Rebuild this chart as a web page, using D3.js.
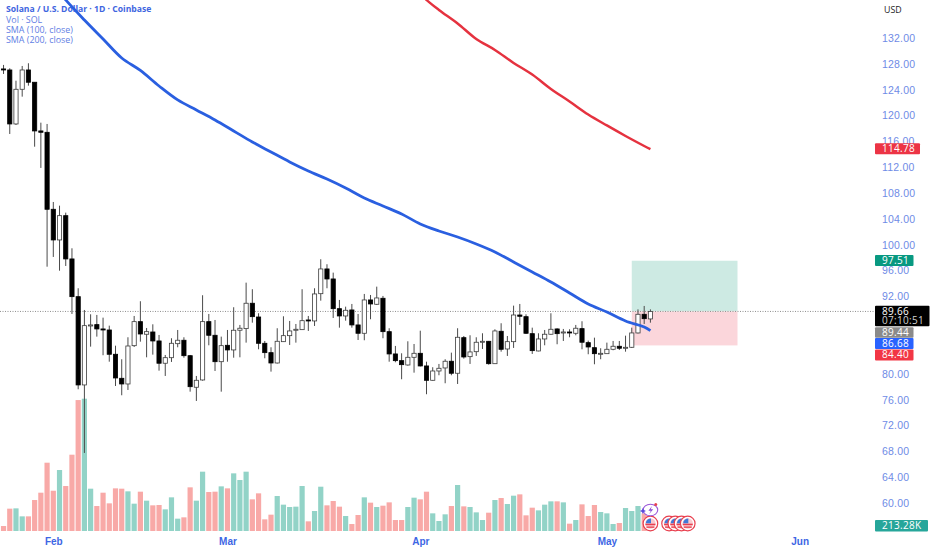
<!DOCTYPE html>
<html>
<head>
<meta charset="utf-8">
<script src="https://cdn.jsdelivr.net/npm/d3@7"></script>
<style>
    html, body { margin: 0; padding: 0; background: #fff; }
    svg { display: block; font-family: "Open Sans", sans-serif; }
    .price-axis text { fill: #6f8be6; font-size: 10.5px; letter-spacing: 0.2px; }
    .time-axis text { fill: #3d66e4; font-size: 10px; font-weight: 700; }
</style>
</head>
<body>
<script>
// candles, one entry per day, first day is Jan 24
const firstDay = new Date(2026, 0, 24);
const opens = [127.21,127.05,118.69,124.06,127.05,125.15,117.61,117.40,105.48,100.73,104.49,97.79,91.95,78.28,87.41,87.62,86.95,86.79,83.03,79.31,78.43,84.36,88.08,86.13,86.48,85.09,81.64,82.50,84.67,85.20,82.81,77.92,79.05,88.08,85.97,81.88,84.42,83.70,86.75,87.00,90.93,88.80,84.73,83.28,81.68,84.98,85.91,86.75,86.84,88.34,88.19,92.41,96.24,94.69,90.09,88.96,89.89,87.57,86.28,91.44,90.77,91.70,86.53,83.08,82.04,81.37,82.56,83.18,81.22,79.00,80.44,80.91,81.95,80.09,85.60,82.66,83.43,84.93,85.04,81.57,86.59,83.85,84.98,89.11,88.85,86.22,83.54,85.40,86.13,86.95,86.37,86.48,86.28,87.00,84.83,84.05,83.08,83.12,83.80,84.27,84.00,84.11,86.33,89.22,88.50];
const highs = [127.83,127.31,125.39,127.67,128.09,125.15,118.89,118.69,106.61,106.04,104.96,99.44,93.25,89.89,89.22,89.12,88.70,87.46,84.36,82.26,85.66,88.96,91.24,87.10,87.67,86.02,82.92,85.51,86.79,85.66,82.92,79.67,92.17,89.27,88.34,85.76,86.79,90.31,87.57,94.12,93.10,89.38,85.09,84.11,87.06,88.91,88.19,87.72,93.10,88.96,93.25,97.74,96.97,95.67,91.44,90.40,90.82,89.27,92.37,92.21,93.50,92.06,87.06,84.32,83.18,85.04,84.62,86.68,81.88,81.02,81.53,82.26,83.28,87.06,85.86,85.97,85.66,86.28,85.09,86.90,87.83,85.86,90.56,90.82,89.22,87.15,86.28,86.79,89.38,87.06,86.95,86.90,87.57,88.14,85.14,85.60,83.96,84.83,85.09,85.09,85.91,87.15,89.98,90.51,89.98];
const lows = [126.43,117.14,118.53,122.92,124.62,115.17,111.88,96.59,98.10,95.97,96.70,89.27,77.61,67.75,84.21,85.76,82.88,81.88,78.12,76.68,77.50,84.16,84.98,82.56,82.97,80.49,79.67,81.84,84.11,82.50,77.24,75.80,78.94,84.42,80.44,77.24,81.88,82.50,82.56,84.83,87.92,83.80,82.41,80.34,81.60,84.93,84.47,84.83,86.79,86.64,87.41,91.33,93.25,88.65,87.15,88.23,87.15,85.24,85.20,88.45,90.66,85.51,81.88,81.79,79.16,81.27,80.18,81.14,76.84,78.94,79.78,78.54,79.78,78.43,82.35,81.53,82.77,83.85,81.42,81.53,83.43,82.77,84.01,87.57,86.17,83.08,83.49,84.42,86.07,84.58,85.09,85.66,85.97,83.80,83.03,81.48,82.26,83.08,83.65,83.69,83.43,84.00,86.25,87.72,87.92];
const closes = [127.05,118.69,124.06,127.05,125.15,117.61,117.40,105.48,100.73,104.49,97.79,91.95,78.28,87.46,87.57,86.95,86.79,83.03,79.36,78.43,84.31,88.08,86.17,86.53,85.09,81.64,82.50,84.73,85.20,82.81,78.01,79.00,88.08,85.97,81.88,84.36,83.70,86.75,87.06,90.93,88.85,84.73,83.28,81.68,85.04,85.91,86.64,86.90,88.23,88.19,92.37,96.24,94.69,90.09,88.96,89.84,87.57,86.28,91.44,90.82,91.75,86.53,83.08,82.04,81.42,82.56,83.18,81.22,79.00,80.44,80.86,81.95,80.09,85.66,82.61,83.39,84.89,85.04,81.57,86.64,83.80,84.98,89.11,88.91,86.28,83.59,85.40,86.13,86.90,86.22,86.48,86.37,87.06,84.89,84.16,83.12,83.18,83.80,84.27,83.96,84.11,86.33,89.22,88.54,89.66];

// daily volume in thousands
const volumes = [177,793,804,520,520,1100,1360,2425,1430,2165,1597,2709,4649,4697,1502,887,1360,982,1514,1502,1408,970,1396,1077,911,923,769,1195,438,485,1550,1077,2106,1384,1396,1585,1514,2047,1810,2106,1124,1337,414,580,1242,935,852,864,1597,343,710,1573,911,1065,864,532,248,568,1195,1006,852,899,1017,390,390,852,1183,1124,1396,627,355,592,887,1633,875,852,662,390,650,1100,1171,958,1254,1301,556,828,733,935,1053,1053,1017,260,390,946,532,923,674,627,248,284,816,710,887,627,213.28];

// moving averages, read every few days: day number from Feb 1 and value
const sma100Days = [1,2,5,8,11,14,17,20,23,26,29,32,35,38,41,44,47,50,53,56,59,62,65,68,71,74,77,80,83,86,89,92,95,96];
const sma100Values = [139.13,137.89,134.79,131.85,128.91,126.97,124.57,122.41,120.86,119.31,117.61,115.90,114.35,112.81,111.41,110.16,108.78,107.23,106.00,104.75,103.21,102.12,101.19,100.11,98.87,97.32,95.77,94.22,92.52,90.82,89.58,88.19,87.26,86.68];
const sma200Days = [59,60,62,65,68,71,74,77,80,83,86,89,92,95,96];
const sma200Values = [138.97,137.89,136.34,134.25,131.85,130.15,128.14,126.35,124.11,122.17,120.16,118.46,116.83,115.28,114.78];

// long position drawing
const positionStartDay = 93;
const positionEndDay = 110;
const targetPrice = 97.51;
const entryPrice = 89.66;
const stopPrice = 84.40;

// axis ticks, 88 and 84 sit behind the price labels in the picture
const priceTicks = [132,128,124,120,116,112,108,104,100,96,92,80,76,72,68,64,60];
const monthTicks = [new Date(2026,1,1), new Date(2026,2,1), new Date(2026,3,1), new Date(2026,4,1), new Date(2026,5,1)];

// labels on the price scale
const priceLabels = [
    { text: '114.78', top: 143.3, h: 11, w: 45, fill: '#ec3445' },
    { text: '97.51', top: 255, h: 11, w: 38.5, fill: '#089981' },
    { text: '89.44', top: 327.3, h: 10.5, w: 38.5, fill: '#8a8a8a' },
    { text: '86.68', top: 338, h: 11, w: 38.5, fill: '#2962ff' },
    { text: '84.40', top: 349.5, h: 11, w: 38.5, fill: '#f23645' },
    { text: '213.28K', top: 520, h: 11.5, w: 53, fill: '#26a69a' }
];
const legendLines = ['Vol · SOL', 'SMA (100, close)', 'SMA (200, close)'];

// news flags under the last bars
const flagDays = [96, 99, 100, 101, 102];

const w = 932;
const h = 550;

const svg = d3.select('body').append('svg')
    .attr('width', w)
    .attr('height', h);

const dayOf = i => d3.timeDay.offset(firstDay, i);

const xScale = d3.scaleTime()
    .domain([new Date(2026,1,1), new Date(2026,5,1)])
    .range([53.3, 53.3 + 6.22 * 120]);
const yScale = d3.scaleLinear()
    .domain([60, 132])
    .range([503, 38]);
const volScale = d3.scaleLinear()
    .domain([0, 4697])
    .range([531, 398.7]);

const xDay = n => xScale(d3.timeDay.offset(new Date(2026,1,1), n));

const candles = opens.map((o, i) => ({
    date: dayOf(i), open: o, high: highs[i], low: lows[i], close: closes[i],
    vol: volumes[i], up: closes[i] >= o
}));

// legend goes under the lines
const legend = svg.append('g').attr('transform', 'translate(6,0)');
legend.append('text')
    .attr('y', 12)
    .attr('font-size', 8.6)
    .attr('font-weight', 700)
    .attr('fill', '#3f66df')
    .text('Solana / U.S. Dollar · 1D · Coinbase');
legend.selectAll('.leg').data(legendLines).enter().append('text')
    .attr('class', 'leg')
    .attr('y', (d, i) => 22.5 + i * 10)
    .attr('font-size', 8.9)
    .attr('fill', '#5f80e4')
    .text(d => d);

// position boxes
svg.append('rect')
    .attr('x', xDay(positionStartDay))
    .attr('y', yScale(targetPrice))
    .attr('width', xDay(positionEndDay) - xDay(positionStartDay))
    .attr('height', yScale(entryPrice) - yScale(targetPrice))
    .attr('fill', '#cdeae3');
svg.append('rect')
    .attr('x', xDay(positionStartDay))
    .attr('y', yScale(entryPrice))
    .attr('width', xDay(positionEndDay) - xDay(positionStartDay))
    .attr('height', yScale(stopPrice) - yScale(entryPrice))
    .attr('fill', '#fbd6db');

// volume bars
svg.selectAll('.vol').data(candles).enter().append('rect')
    .attr('class', 'vol')
    .attr('x', d => xScale(d.date) - 2.6)
    .attr('y', d => volScale(d.vol))
    .attr('width', 5.2)
    .attr('height', d => 531 - volScale(d.vol))
    .attr('fill', d => d.up ? '#92d3c7' : '#f8a9a7');

// last price line
svg.append('line')
    .attr('x1', 0)
    .attr('x2', 875)
    .attr('y1', yScale(entryPrice))
    .attr('y2', yScale(entryPrice))
    .attr('stroke', '#8f8f8f')
    .attr('stroke-width', 1)
    .attr('stroke-dasharray', '1 1.5');

// candles
svg.selectAll('.wick').data(candles).enter().append('line')
    .attr('class', 'wick')
    .attr('x1', d => xScale(d.date))
    .attr('x2', d => xScale(d.date))
    .attr('y1', d => yScale(d.high))
    .attr('y2', d => yScale(d.low))
    .attr('stroke', '#4a4a4a')
    .attr('stroke-width', 1);
svg.selectAll('.body').data(candles).enter().append('rect')
    .attr('class', 'body')
    .attr('x', d => xScale(d.date) - 2.1)
    .attr('y', d => yScale(Math.max(d.open, d.close)))
    .attr('width', 4.2)
    .attr('height', d => Math.max(1, Math.abs(yScale(d.open) - yScale(d.close))))
    .attr('fill', d => d.up ? '#fff' : '#000')
    .attr('stroke', d => d.up ? '#3c3c3c' : '#000')
    .attr('stroke-width', 0.8);

// moving averages
const smaLine = d3.line()
    .x(d => xDay(d[0]))
    .y(d => yScale(d[1]))
    .curve(d3.curveCatmullRom);
svg.append('path')
    .attr('d', smaLine(d3.zip(sma100Days, sma100Values)))
    .attr('fill', 'none')
    .attr('stroke', '#2a5fe0')
    .attr('stroke-width', 2.8);
svg.append('path')
    .attr('d', smaLine(d3.zip(sma200Days, sma200Values)))
    .attr('fill', 'none')
    .attr('stroke', '#e5323f')
    .attr('stroke-width', 2.5);

// price axis
const yAxis = d3.axisRight(yScale)
    .tickValues(priceTicks)
    .tickFormat(d3.format('.2f'))
    .tickSize(0)
    .tickPadding(0);
svg.append('g')
    .attr('class', 'price-axis')
    .attr('transform', 'translate(882,0)')
    .call(yAxis)
    .call(g => g.select('.domain').remove());

// time axis
const xAxis = d3.axisBottom(xScale)
    .tickValues(monthTicks)
    .tickFormat(d3.timeFormat('%b'))
    .tickSize(0)
    .tickPadding(0);
svg.append('g')
    .attr('class', 'time-axis')
    .attr('transform', 'translate(0,537.5)')
    .call(xAxis)
    .call(g => g.select('.domain').remove());

svg.append('text')
    .attr('x', 884)
    .attr('y', 13)
    .attr('font-size', 8.8)
    .attr('fill', '#222')
    .text('USD');

// labels on the scale
const labels = svg.selectAll('.label').data(priceLabels).enter().append('g')
    .attr('class', 'label')
    .attr('transform', d => `translate(875,${d.top})`);
labels.append('rect')
    .attr('width', d => d.w)
    .attr('height', d => d.h)
    .attr('rx', 1)
    .attr('fill', d => d.fill);
labels.append('text')
    .attr('x', 7)
    .attr('y', d => d.h / 2 + 3.4)
    .attr('font-size', 10)
    .attr('letter-spacing', 0.3)
    .attr('fill', '#fff')
    .text(d => d.text);

// last price with countdown
const lastBox = svg.append('g').attr('transform', 'translate(875,305.7)');
lastBox.append('rect')
    .attr('width', 54.5)
    .attr('height', 20.5)
    .attr('rx', 1)
    .attr('fill', '#000');
lastBox.append('text')
    .attr('x', 7)
    .attr('y', 9)
    .attr('font-size', 10)
    .attr('letter-spacing', 0.3)
    .attr('fill', '#fff')
    .text(entryPrice.toFixed(2));
lastBox.append('text')
    .attr('x', 7)
    .attr('y', 18.5)
    .attr('font-size', 10)
    .attr('letter-spacing', 0.3)
    .attr('fill', '#d0d0d0')
    .text('07:10:51');

// flags
const flags = svg.selectAll('.flag').data(flagDays).enter().append('g')
    .attr('class', 'flag')
    .attr('transform', d => `translate(${xDay(d)},523.5)`);
flags.append('circle')
    .attr('r', 7.3)
    .attr('fill', '#fff')
    .attr('stroke', '#e8404f')
    .attr('stroke-width', 1.2);
flags.append('circle')
    .attr('r', 5.2)
    .attr('fill', '#f9c9cd');
flags.append('rect')
    .attr('x', -5).attr('y', 0.2).attr('width', 10).attr('height', 1.5).attr('fill', '#e8404f');
flags.append('rect')
    .attr('x', -4).attr('y', 3).attr('width', 8).attr('height', 1.3).attr('fill', '#e8404f');
flags.append('path')
    .attr('d', 'M-4.6,-0.2 A5,5 0 0 1 0.6,-5 L0.6,-0.2 Z')
    .attr('fill', '#3f79d8');

// purple icon above the first flag
const bolt = svg.append('g')
    .attr('transform', `translate(${xDay(96)},510)`)
    .attr('fill', 'none');
bolt.append('ellipse')
    .attr('rx', 7.3)
    .attr('ry', 5.8)
    .attr('fill', '#fff')
    .attr('stroke', '#9a55d8')
    .attr('stroke-width', 1.1);
bolt.append('path')
    .attr('d', 'M1.5,-4 L-2,0.8 L0.4,0.8 L-1.2,4 L2.8,-0.8 L0.4,-0.8 Z')
    .attr('fill', '#8a4ed6');
bolt.append('path')
    .attr('d', 'M-7.5,-2 L-6.5,0 L-4.5,1 L-6.5,2 L-7.5,4 L-8.5,2 L-10.5,1 L-8.5,0 Z')
    .attr('fill', '#5a49dc');
bolt.append('circle')
    .attr('cx', 5.3)
    .attr('cy', -5.6)
    .attr('r', 1.5)
    .attr('fill', '#e8404f');
</script>
</body>
</html>
